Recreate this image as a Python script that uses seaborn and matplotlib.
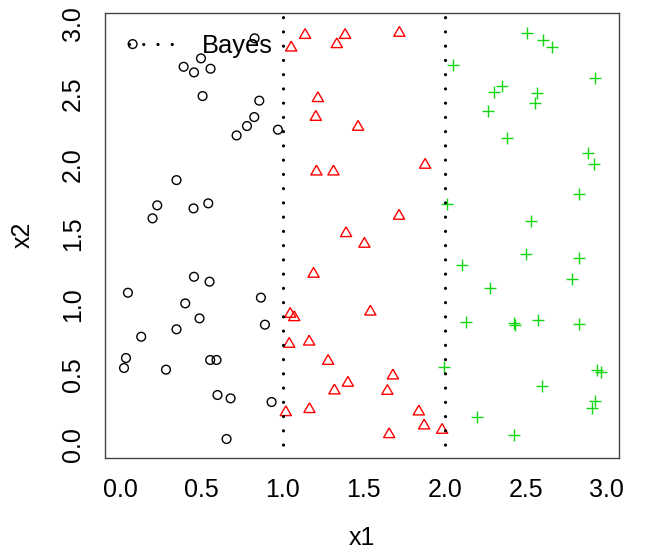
import numpy as np
import pandas as pd
import matplotlib
matplotlib.use("Agg")
import matplotlib.pyplot as plt
import seaborn as sns

# Class 1 (black circles)
x1_c1 = [0.073, 0.826, 0.495, 0.388, 0.452, 0.554, 0.505, 0.855, 0.824, 0.779,
         0.715, 0.970, 0.344, 0.225, 0.196, 0.449, 0.540, 0.452, 0.548, 0.044,
         0.398, 0.486, 0.865, 0.890, 0.344, 0.126, 0.032, 0.020, 0.279, 0.552,
         0.591, 0.597, 0.678, 0.931, 0.653]
x2_c1 = [2.857, 2.898, 2.755, 2.695, 2.655, 2.681, 2.486, 2.453, 2.336, 2.272,
         2.205, 2.246, 1.886, 1.706, 1.613, 1.684, 1.720, 1.196, 1.161, 1.082,
         1.006, 0.899, 1.047, 0.854, 0.821, 0.768, 0.616, 0.545, 0.533, 0.602,
         0.602, 0.352, 0.328, 0.302, 0.038]

# Class 2 (red triangles)
x1_c2 = [1.138, 1.052, 1.385, 1.334, 1.720, 1.217, 1.204, 1.465, 1.208, 1.313,
         1.879, 1.718, 1.391, 1.504, 1.190, 1.046, 1.071, 1.541, 1.040, 1.163,
         1.280, 1.680, 1.402, 1.319, 1.646, 1.019, 1.165, 1.840, 1.873, 1.984,
         1.657]
x2_c2 = [2.921, 2.831, 2.921, 2.855, 2.936, 2.470, 2.336, 2.265, 1.946, 1.946,
         1.994, 1.630, 1.506, 1.430, 1.216, 0.930, 0.906, 0.946, 0.716, 0.732,
         0.594, 0.490, 0.438, 0.383, 0.380, 0.228, 0.250, 0.233, 0.133, 0.102,
         0.071]

# Class 3 (green crosses)
x1_c3 = [2.510, 2.605, 2.662, 2.050, 2.928, 2.354, 2.307, 2.568, 2.560, 2.266,
         2.383, 2.887, 2.924, 2.829, 2.016, 2.531, 2.500, 2.829, 2.107, 2.788,
         2.280, 2.130, 2.430, 2.436, 2.574, 2.829, 1.998, 2.940, 2.963, 2.603,
         2.928, 2.911, 2.200, 2.430]
x2_c3 = [2.934, 2.888, 2.834, 2.707, 2.615, 2.557, 2.517, 2.510, 2.434, 2.381,
         2.188, 2.077, 2.001, 1.787, 1.713, 1.596, 1.358, 1.328, 1.282, 1.180,
         1.118, 0.873, 0.868, 0.852, 0.890, 0.859, 0.554, 0.533, 0.514, 0.416,
         0.311, 0.261, 0.193, 0.064]

bayes_bounds = [1.0, 2.0]
ticks = [0.0, 0.5, 1.0, 1.5, 2.0, 2.5, 3.0]
tick_labels = ["0.0", "0.5", "1.0", "1.5", "2.0", "2.5", "3.0"]

sns.set_theme(style="white")
plt.rcParams["font.family"] = ["Liberation Sans", "DejaVu Sans"]

fig = plt.figure(figsize=(6.45, 5.55), dpi=100)
ax = fig.add_axes([0.1628, 0.1753, 0.9602 - 0.1628, 0.9771 - 0.1753])

df1 = pd.DataFrame({"x1": x1_c1, "x2": x2_c1})
df2 = pd.DataFrame({"x1": x1_c2, "x2": x2_c2})
df3 = pd.DataFrame({"x1": x1_c3, "x2": x2_c3})

# triangle centred on its centroid, like R's pch = 2
tri = [(0, 1), (0.866, -0.5), (-0.866, -0.5), (0, 1)]

sns.scatterplot(data=df1, x="x1", y="x2", ax=ax, marker="o", s=6.3 ** 2,
                color="black", facecolor="none", edgecolor="black", linewidth=1.0)
sns.scatterplot(data=df2, x="x1", y="x2", ax=ax, marker=tri, s=9.3 ** 2,
                color="#ff0000", facecolor="none", edgecolor="#ff0000", linewidth=1.0)
sns.scatterplot(data=df3, x="x1", y="x2", ax=ax, marker="+", s=9.3 ** 2,
                color="#10d810", edgecolor="#10d810", linewidth=1.0)

dot_style = (0.27, (0.01, 4.45))
for b in bayes_bounds:
    ax.axvline(b, color="black", lw=2.3, linestyle=dot_style,
               dash_capstyle="round", zorder=3)

# legend: dotted segment + label
ax.plot([0.052, 0.355], [2.857, 2.857], color="black", lw=2.3,
        linestyle=(0, (0.01, 4.45)), dash_capstyle="round", zorder=4)
ax.text(0.503, 2.791, "Bayes", fontsize=18.4, ha="left", va="baseline",
        color="black", zorder=5)

ax.set_xlim(-0.0975, 3.078)
ax.set_ylim(-0.0956, 3.081)
ax.set_xticks(ticks)
ax.set_xticklabels(tick_labels)
ax.set_yticks(ticks)
ax.set_yticklabels(tick_labels, rotation=90, va="center")

ax.tick_params(axis="both", direction="out", length=7.9, width=0.9,
               color="#333333", labelsize=18, labelcolor="black")
ax.tick_params(axis="x", pad=7.0)
ax.tick_params(axis="y", pad=6.5)
ax.set_xlabel("x1", fontsize=18, color="black", labelpad=17)
ax.set_ylabel("x2", fontsize=18, color="black", labelpad=19)

for sp in ax.spines.values():
    sp.set_visible(True)
    sp.set_color("#444444")
    sp.set_linewidth(1.0)

ax.grid(False)
fig.savefig("out.png", dpi=100)
